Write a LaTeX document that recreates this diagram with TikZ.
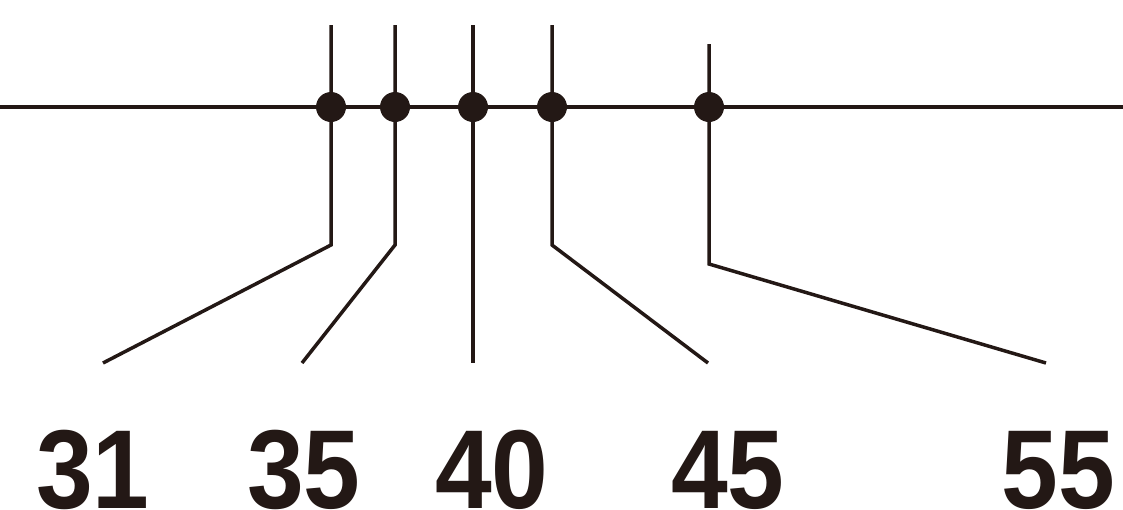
\documentclass[tikz,border=0pt]{standalone}
\usepackage{fontspec}
\setmainfont{Liberation Sans}
\definecolor{ink}{HTML}{231815}
\newcommand{\tallnum}[1]{\scalebox{1}[1.1]{#1}}

\begin{document}
\begin{tikzpicture}[x=1pt, y=-1pt, line width=3.5pt,
	dot/.style={circle, fill=ink, inner sep=0pt, minimum size=30pt},
	lbl/.style={anchor=base, font=\fontsize{102}{102}\selectfont\bfseries, text=ink}]
	\useasboundingbox (0,0) rectangle (1123,509);

	% main line
	\coordinate (l) at (0,107);
	\coordinate (r) at (1123,107);
	\draw[ink] (l) -- (r);

	% dots on the line
	\node[dot] (a) at (331,107) {};
	\node[dot] (b) at (395,107) {};
	\node[dot] (c) at (473,107) {};
	\node[dot] (d) at (552,107) {};
	\node[dot] (e) at (709,107) {};

	% tops, bends and ends
	\coordinate (a1) at (331,25);  \coordinate (a2) at (331,245); \coordinate (a3) at (103,363);
	\coordinate (b1) at (395,25);  \coordinate (b2) at (395,245); \coordinate (b3) at (302,363);
	\coordinate (c1) at (473,25);  \coordinate (c3) at (473,363);
	\coordinate (d1) at (552,25);  \coordinate (d2) at (552,245); \coordinate (d3) at (708,363);
	\coordinate (e1) at (709,44);  \coordinate (e2) at (709,264); \coordinate (e3) at (1046,363);

	\draw[ink] (a1) -- (a.center) -- (a2) -- (a3);
	\draw[ink] (b1) -- (b.center) -- (b2) -- (b3);
	\draw[ink] (c1) -- (c.center) -- (c3);
	\draw[ink] (d1) -- (d.center) -- (d2) -- (d3);
	\draw[ink] (e1) -- (e.center) -- (e2) -- (e3);

	% labels
	\node[lbl] (la) at (93,508) {\tallnum{31}};
	\node[lbl] (lb) at (304,508) {\tallnum{35}};
	\node[lbl] (lc) at (492,508) {\tallnum{40}};
	\node[lbl] (ld) at (728,508) {\tallnum{45}};
	\node[lbl] (le) at (1058,508) {\tallnum{55}};
\end{tikzpicture}
\end{document}
